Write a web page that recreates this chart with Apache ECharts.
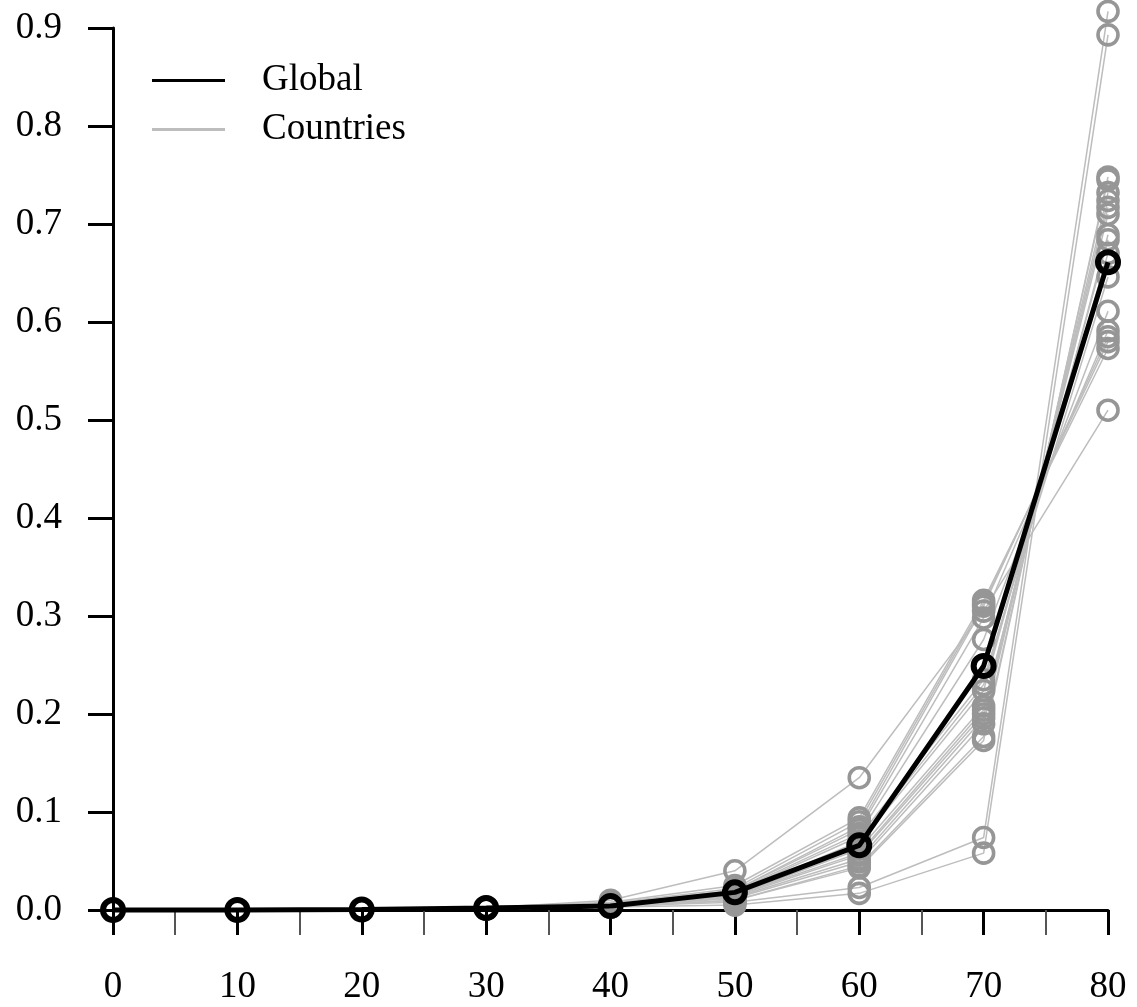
<!DOCTYPE html>
<html>
<head>
<meta charset="utf-8">
<script src="https://cdn.jsdelivr.net/npm/echarts@6/dist/echarts.min.js"></script>
<style>
html,body{margin:0;padding:0;background:#fff;}
#chart{width:1137px;height:1007px;}
</style>
</head>
<body>
<div id="chart"></div>
<script>
// ---- data ----
var ages = [0, 10, 20, 30, 40, 50, 60, 70, 80];
var yTicks = [0, 0.1, 0.2, 0.3, 0.4, 0.5, 0.6, 0.7, 0.8, 0.9];
var globalValues = [0, 0, 0.0005, 0.002, 0.004, 0.018, 0.066, 0.249, 0.661];
var countryValues = [
  [0, 0, 0.0003, 0.002, 0.010, 0.040, 0.135, 0.305, 0.510],
  [0, 0, 0.0002, 0.001, 0.003, 0.005, 0.017, 0.058, 0.893],
  [0, 0, 0.0002, 0.001, 0.004, 0.008, 0.023, 0.074, 0.917],
  [0, 0, 0.0004, 0.003, 0.008, 0.025, 0.094, 0.316, 0.573],
  [0, 0, 0.0004, 0.002, 0.007, 0.022, 0.090, 0.313, 0.580],
  [0, 0, 0.0003, 0.002, 0.006, 0.020, 0.085, 0.310, 0.585],
  [0, 0, 0.0003, 0.002, 0.005, 0.020, 0.082, 0.298, 0.591],
  [0, 0, 0.0003, 0.002, 0.005, 0.019, 0.078, 0.276, 0.611],
  [0, 0, 0.0003, 0.002, 0.005, 0.018, 0.075, 0.235, 0.646],
  [0, 0, 0.0003, 0.002, 0.004, 0.017, 0.070, 0.230, 0.670],
  [0, 0, 0.0002, 0.002, 0.004, 0.016, 0.068, 0.224, 0.684],
  [0, 0, 0.0002, 0.001, 0.004, 0.015, 0.062, 0.208, 0.689],
  [0, 0, 0.0002, 0.001, 0.004, 0.015, 0.058, 0.204, 0.710],
  [0, 0, 0.0002, 0.001, 0.003, 0.014, 0.056, 0.200, 0.717],
  [0, 0, 0.0002, 0.001, 0.003, 0.013, 0.052, 0.196, 0.724],
  [0, 0, 0.0002, 0.001, 0.003, 0.012, 0.049, 0.190, 0.732],
  [0, 0, 0.0002, 0.001, 0.003, 0.010, 0.045, 0.177, 0.745],
  [0, 0, 0.0002, 0.001, 0.003, 0.010, 0.043, 0.173, 0.748]
];
var legendNames = ['Global', 'Countries'];

// ---- chart ----
var FONT = '"Liberation Serif", "Times New Roman", serif';
var FS = 37;
function pairs(vals) { return ages.map(function (a, i) { return [a, vals[i]]; }); }

var series = countryValues.map(function (vals) {
  return {
    name: legendNames[1],
    type: 'line',
    data: pairs(vals),
    clip: false,
    symbol: 'circle',
    symbolSize: 20,
    lineStyle: { color: '#bdbdbd', width: 1.5 },
    itemStyle: { color: 'rgba(0,0,0,0)', borderColor: '#969696', borderWidth: 3.6 },
    emphasis: { disabled: true },
    z: 2
  };
});
series.push({
  name: legendNames[0],
  type: 'line',
  data: pairs(globalValues),
  clip: false,
  symbol: 'circle',
  symbolSize: 20,
  lineStyle: { color: '#000', width: 5 },
  itemStyle: { color: 'rgba(0,0,0,0)', borderColor: '#000', borderWidth: 6 },
  emphasis: { disabled: true },
  z: 5
});

var chart = echarts.init(document.getElementById('chart'), null, { renderer: 'canvas' });
chart.setOption({
  animation: false,
  backgroundColor: '#fff',
  grid: { left: 113, right: 29, top: 28, bottom: 97, containLabel: false },
  legend: {
    left: 147, top: 57, orient: 'vertical',
    icon: 'rect', itemWidth: 73, itemHeight: 3, itemGap: 12,
    selectedMode: false,
    textStyle: { fontFamily: FONT, fontSize: FS, color: '#000', padding: [0, 0, 0, 32], lineHeight: 36 },
    data: [
      { name: legendNames[0], itemStyle: { color: '#000', borderWidth: 0 } },
      { name: legendNames[1], itemStyle: { color: '#bdbdbd', borderWidth: 0 } }
    ]
  },
  xAxis: {
    type: 'value', min: 0, max: 80, interval: 10,
    axisLine: { show: true, onZero: false, lineStyle: { color: '#000', width: 3 } },
    axisTick: { show: true, length: 25, lineStyle: { color: '#000', width: 3 } },
    minorTick: { show: true, splitNumber: 2, length: 25, lineStyle: { color: '#555', width: 2 } },
    splitLine: { show: false },
    axisLabel: { fontFamily: FONT, fontSize: FS, color: '#000', margin: 59 }
  },
  yAxis: {
    type: 'value', min: yTicks[0], max: yTicks[yTicks.length - 1], interval: 0.1,
    axisLine: { show: true, lineStyle: { color: '#000', width: 3 } },
    axisTick: { show: true, length: 25, lineStyle: { color: '#000', width: 3 } },
    splitLine: { show: false },
    axisLabel: { fontFamily: FONT, fontSize: FS, color: '#000', margin: 51,
      formatter: function (v) { return v.toFixed(1); } }
  },
  series: series
});
</script>
</body>
</html>
